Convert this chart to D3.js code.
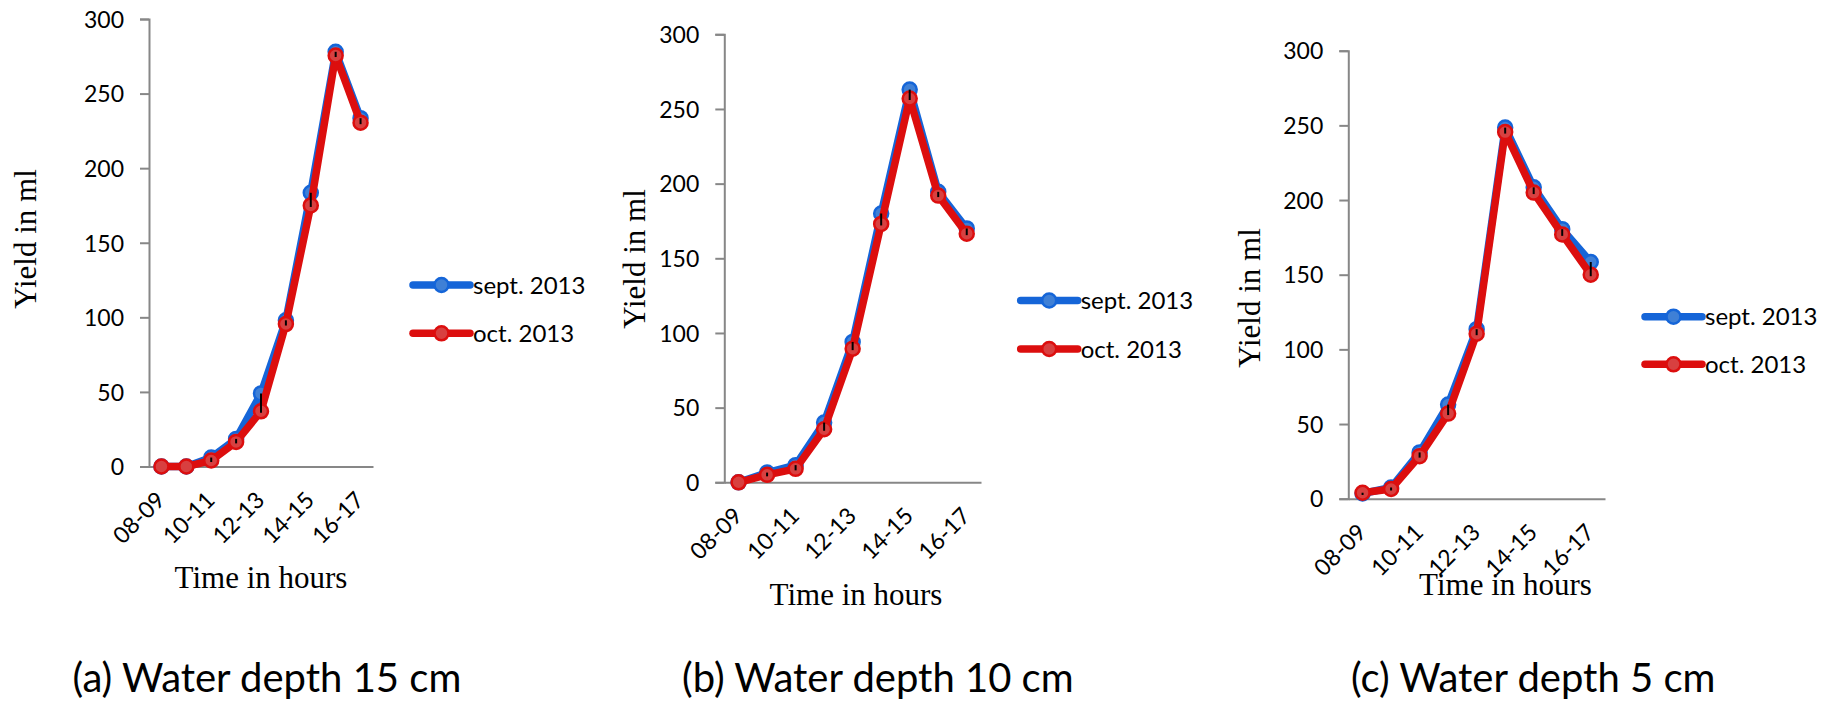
<!DOCTYPE html>
<html>
<head>
<meta charset="utf-8">
<script src="https://cdn.jsdelivr.net/npm/d3@7"></script>
<style>
  html, body { margin: 0; padding: 0; background: #ffffff; }
  svg { display: block; }
</style>
</head>
<body>
<svg id="chart" width="1834" height="705"></svg>
<script>
// ---------------- data ----------------
const categories = ["08-09","09-10","10-11","11-12","12-13","13-14","14-15","15-16","16-17"];
const xTickLabels = ["08-09","10-11","12-13","14-15","16-17"];
const yTicks = [0, 50, 100, 150, 200, 250, 300];
const seriesNames = ["sept. 2013", "oct. 2013"];

const sept15 = [0, 0, 6, 18.5, 49, 98, 183.5, 278, 233.5];
const oct15  = [0, 0, 4, 16.5, 37, 95.5, 175, 275.5, 230.5];
const sept10 = [0, 6.5, 11.5, 40, 94, 180, 263, 194.5, 170];
const oct10  = [0, 5, 9, 35.5, 89.5, 173, 257, 192, 166.5];
const sept5  = [3.5, 7.5, 31, 63, 113.5, 248.5, 208.5, 180.5, 158.5];
const oct5   = [4, 6.5, 28.5, 57, 110.5, 245.5, 205, 177, 150];

const captions = ["(a) Water depth 15 cm", "(b) Water depth 10 cm", "(c) Water depth 5 cm"];
const yTitle = "Yield in ml";
const xTitle = "Time in hours";

// ---------------- layout / style ----------------
const panels = [
  { sept: sept15, oct: oct15, x0: 149,   x1: 373,  y0: 466.5, y1: 19,
    yLabX: 25,   yLabY: 239, xTitX: 261,   xTitY: 588, legX: 413,   legY: [285, 333.3], capX: 72.5 },
  { sept: sept10, oct: oct10, x0: 724.3, x1: 981,  y0: 482.3, y1: 34.3,
    yLabX: 634,  yLabY: 259, xTitX: 856,   xTitY: 605, legX: 1020.7, legY: [300.5, 349], capX: 682 },
  { sept: sept5,  oct: oct5,  x0: 1348.3, x1: 1605, y0: 498.7, y1: 50.7,
    yLabX: 1249, yLabY: 298, xTitX: 1505.5, xTitY: 595, legX: 1645,  legY: [316.7, 364.3], capX: 1351 }
];
const colors = [
  { line: "#1565d8", fill: "#3f80d6" },
  { line: "#dc0e0e", fill: "#d84040" }
];
const sansFont = "Lato, 'Open Sans', sans-serif";
const serifFont = "'Liberation Serif', 'DejaVu Serif', serif";
const axisColor = "#878787";
const lineW = 7.5, markerR = 7;

const svg = d3.select("#chart");

panels.forEach((p, pi) => {
  const g = svg.append("g");
  const x = d3.scaleBand().domain(categories).range([p.x0, p.x1]).padding(0);
  const y = d3.scaleLinear().domain([0, 300]).range([p.y0, p.y1]);
  const cx = c => x(c) + x.bandwidth() / 2;

  // y axis
  const yAxis = g.append("g").attr("transform", `translate(${p.x0},0)`)
    .call(d3.axisLeft(y).tickValues(yTicks).tickSize(9).tickPadding(16));
  yAxis.select(".domain").attr("stroke", axisColor).attr("stroke-width", 2);
  yAxis.selectAll(".tick line").attr("stroke", axisColor).attr("stroke-width", 2);
  yAxis.selectAll(".tick text")
    .attr("font-family", sansFont).attr("font-size", 23).attr("fill", "#000").attr("dy", "0.36em");

  // x axis line
  const xAxis = g.append("g").attr("transform", `translate(0,${p.y0})`)
    .call(d3.axisBottom(x).tickValues(xTickLabels).tickSize(0).tickSizeOuter(0));
  xAxis.select(".domain").attr("stroke", axisColor).attr("stroke-width", 2);
  xAxis.selectAll(".tick text")
    .attr("font-family", sansFont).attr("font-size", 23).attr("fill", "#000")
    .attr("text-anchor", "end")
    .attr("y", 0).attr("dy", 0)
    .attr("transform", "translate(5,35) rotate(-45)");

  // series
  const data = [p.sept, p.oct];
  data.forEach((vals, si) => {
    const pts = categories.map((c, i) => [cx(c), y(vals[i])]);
    g.append("path")
      .attr("d", d3.line()(pts))
      .attr("fill", "none")
      .attr("stroke", colors[si].line)
      .attr("stroke-width", lineW)
      .attr("stroke-linejoin", "round")
      .attr("stroke-linecap", "round");
    g.selectAll(null).data(pts).enter().append("circle")
      .attr("cx", d => d[0]).attr("cy", d => d[1]).attr("r", markerR)
      .attr("fill", colors[si].fill)
      .attr("stroke", colors[si].line).attr("stroke-width", 2.5);
  });

  // small black error bars between the two months
  g.selectAll(null).data(categories).enter().append("line")
    .attr("x1", c => cx(c)).attr("x2", c => cx(c))
    .attr("y1", (c, i) => Math.min(y(p.sept[i]), y(p.oct[i])) )
    .attr("y2", (c, i) => Math.max(y(p.sept[i]), y(p.oct[i])) + 1.5)
    .attr("stroke", (c, i) => (p.sept[i] === 0 && p.oct[i] === 0) ? "none" : "#000")
    .attr("stroke-width", 2);

  // axis titles
  g.append("text")
    .attr("transform", `translate(${p.yLabX + 0.34 * 31},${p.yLabY}) rotate(-90)`)
    .attr("text-anchor", "middle")
    .attr("font-family", serifFont).attr("font-size", 31).attr("fill", "#000")
    .text(yTitle);
  g.append("text")
    .attr("x", p.xTitX).attr("y", p.xTitY)
    .attr("text-anchor", "middle")
    .attr("font-family", serifFont).attr("font-size", 31).attr("fill", "#000")
    .text(xTitle);

  // legend
  seriesNames.forEach((name, si) => {
    const ly = p.legY[si];
    const lg = g.append("g");
    lg.append("line")
      .attr("x1", p.legX).attr("x2", p.legX + 57).attr("y1", ly).attr("y2", ly)
      .attr("stroke", colors[si].line).attr("stroke-width", lineW).attr("stroke-linecap", "round");
    lg.append("circle")
      .attr("cx", p.legX + 28.5).attr("cy", ly).attr("r", markerR)
      .attr("fill", colors[si].fill).attr("stroke", colors[si].line).attr("stroke-width", 2.5);
    lg.append("text")
      .attr("x", p.legX + 60).attr("y", ly).attr("dy", "0.36em")
      .attr("font-family", sansFont).attr("font-size", 24).attr("fill", "#000")
      .text(name);
  });

  // caption
  svg.append("text")
    .attr("x", p.capX).attr("y", 692)
    .attr("font-family", sansFont).attr("font-size", 40).attr("fill", "#000")
    .text(captions[pi]);
});
</script>
</body>
</html>
